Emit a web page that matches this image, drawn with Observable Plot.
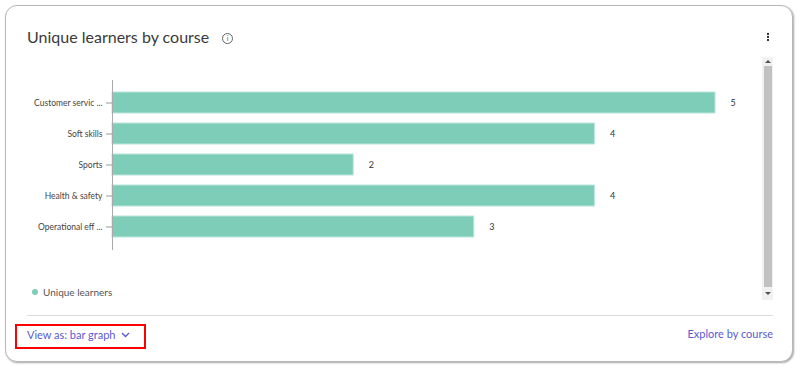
<!DOCTYPE html>
<html>
<head>
<meta charset="utf-8">
<script src="https://cdn.jsdelivr.net/npm/d3@7"></script>
<script src="https://cdn.jsdelivr.net/npm/@observablehq/plot@0.6"></script>
<style>
  html, body { margin: 0; padding: 0; background: #ffffff; }
  body { width: 800px; height: 368px; position: relative; overflow: hidden; font-family: Lato, "Open Sans", sans-serif; }
  .card { position: absolute; left: 5px; top: 5px; width: 788px; height: 357px; border: 1px solid #b8b8b8; border-radius: 12px; box-shadow: 1px 1px 2px rgba(0,0,0,0.35); background: #fff; box-sizing: border-box; }
  .title { position: absolute; left: 27px; top: 27px; font-size: 16px; color: #3a3a3a; white-space: nowrap; }
  .info { position: absolute; left: 222px; top: 33px; width: 9px; height: 9px; border: 1px solid #666; border-radius: 50%; font-size: 7px; line-height: 9px; text-align: center; color: #666; }
  .menu { position: absolute; left: 767px; top: 33px; width: 3px; }
  .menu span { display: block; width: 2px; height: 2px; background: #333; margin-bottom: 1px; }
  .scroll-track { position: absolute; left: 762px; top: 57px; width: 11px; height: 243px; background: #f1f1f1; }
  .scroll-thumb { position: absolute; left: 764px; top: 66px; width: 8px; height: 221px; background: #c1c1c1; }
  .arrow-up { position: absolute; left: 765px; top: 60px; width: 0; height: 0; border-left: 3px solid transparent; border-right: 3px solid transparent; border-bottom: 3px solid #505050; }
  .arrow-down { position: absolute; left: 765px; top: 292px; width: 0; height: 0; border-left: 3px solid transparent; border-right: 3px solid transparent; border-top: 3px solid #505050; }
  #chart { position: absolute; left: 0; top: 70px; }
  .legend { position: absolute; left: 32px; top: 286px; font-size: 10px; color: #555; white-space: nowrap; }
  .legend i { display: inline-block; width: 6px; height: 6px; border-radius: 50%; background: #7ecdb9; margin-right: 5px; vertical-align: 1px; }
  .sep { position: absolute; left: 27px; top: 315px; width: 746px; height: 1px; background: #dcdcdc; }
  .view { position: absolute; left: 15px; top: 324px; width: 127px; height: 21px; border: 2px solid #ff0000; }
  .view-text { position: absolute; left: 27px; top: 328px; font-size: 11px; color: #5a5ad2; white-space: nowrap; }
  .explore { position: absolute; right: 27px; top: 327px; font-size: 11px; color: #5a5ad2; white-space: nowrap; }
</style>
</head>
<body>
<div class="card"></div>
<div class="title">Unique learners by course</div>
<div class="info">i</div>
<div class="menu"><span></span><span></span><span></span></div>
<div class="scroll-track"></div>
<div class="scroll-thumb"></div>
<div class="arrow-up"></div>
<div class="arrow-down"></div>
<div id="chart"></div>
<div class="legend"><i></i>Unique learners</div>
<div class="sep"></div>
<div class="view"></div>
<div class="view-text">View as: bar graph &nbsp;<svg width="9" height="6" style="vertical-align:1px"><polyline points="1,1 4.5,4.5 8,1" fill="none" stroke="#5a5ad2" stroke-width="1.4"/></svg></div>
<div class="explore">Explore by course</div>
<script>
const courses = ["Customer servic ...", "Soft skills", "Sports", "Health & safety", "Operational eff ..."];
const learners = [5, 4, 2, 4, 3];
const seriesName = "Unique learners";

const data = courses.map((c, i) => ({course: c, value: learners[i]}));

const plot = Plot.plot({
  width: 760,
  height: 190,
  marginLeft: 112,
  marginRight: 45,
  marginTop: 10,
  marginBottom: 10,
  style: {fontFamily: "Lato, 'Open Sans', sans-serif", fontSize: "8.5px", color: "#333", background: "transparent"},
  x: {domain: [0, 5], axis: null},
  y: {domain: courses, paddingInner: 0.32, paddingOuter: 0.4, label: null},
  marks: [
    Plot.barX(data, {x: "value", y: "course", fill: "#7ecdb9", stroke: "#b9e6da", strokeWidth: 1}),
    Plot.text(data, {x: "value", y: "course", text: d => String(d.value), dx: 15, textAnchor: "start", fill: "#333", fontSize: 9}),
    Plot.axisY({tickSize: 6, tickPadding: 4, stroke: "#999", fill: "#444", fontSize: 8.5, fontWeight: 400}),
    Plot.ruleX([0], {stroke: "#aaa"})
  ]
});
document.getElementById("chart").appendChild(plot);
</script>
</body>
</html>
